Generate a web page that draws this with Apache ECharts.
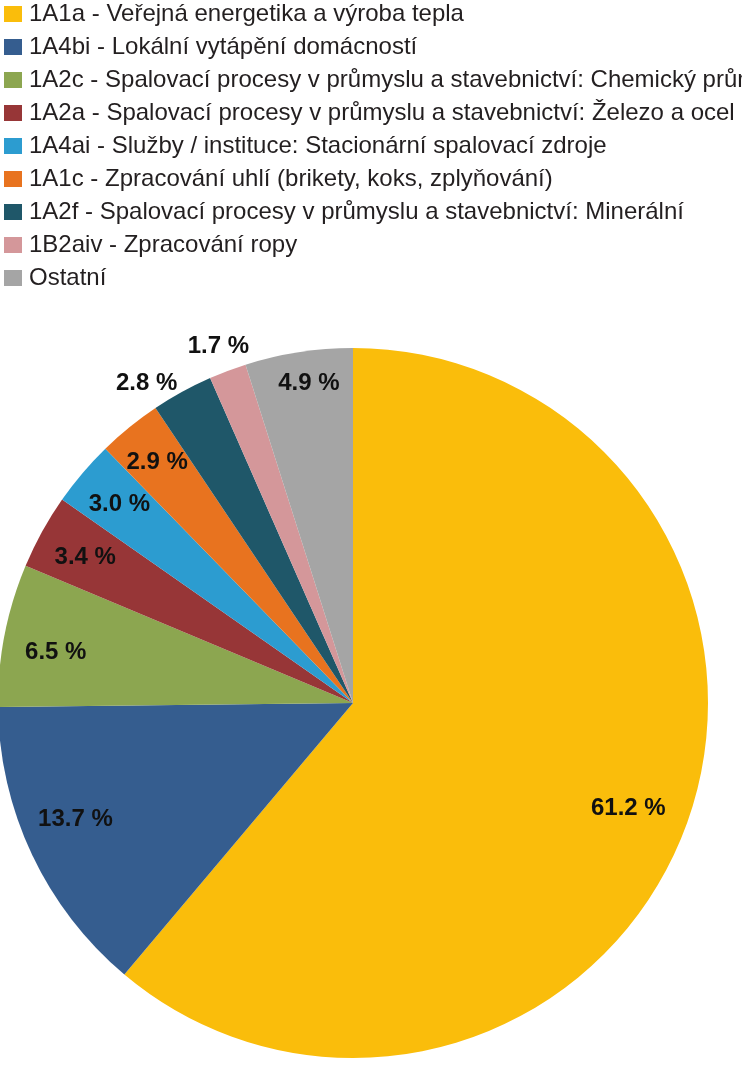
<!DOCTYPE html>
<html><head><meta charset="utf-8">
<script src="https://cdn.jsdelivr.net/npm/echarts@6/dist/echarts.min.js"></script>
<style>html,body{margin:0;padding:0;background:#fff}#c{width:742px;height:1087px}</style>
</head><body><div id="c"></div>
<script>
const categories = [
  '1A1a - Veřejná energetika a výroba tepla',
  '1A4bi - Lokální vytápění domácností',
  '1A2c - Spalovací procesy v průmyslu a stavebnictví: Chemický průmysl',
  '1A2a - Spalovací procesy v průmyslu a stavebnictví: Železo a ocel',
  '1A4ai - Služby / instituce: Stacionární spalovací zdroje',
  '1A1c - Zpracování uhlí (brikety, koks, zplyňování)',
  '1A2f - Spalovací procesy v průmyslu a stavebnictví: Minerální',
  '1B2aiv - Zpracování ropy',
  'Ostatní'
];
const shares = [61.2, 13.7, 6.5, 3.4, 3.0, 2.9, 2.8, 1.7, 4.9];
const outsideLabelled = [false, false, false, false, false, false, true, true, false];

const colors = ['#FABD0B','#355D8F','#8CA650','#973637','#2C9CD0','#E8731F','#1F5769','#D4979A','#A5A5A5'];
const insideOffsets = [[-14,0],[1,-15],[5,8],[2,3],[1,1],[-2,-1],[0,0],[0,0],[3,-15]];
const outsideOffsets = [[0,0],[0,0],[0,0],[0,0],[0,0],[0,0],[-23,14],[0,0],[5,5]];

const CX = 353, CY = 703, R = 355;
const labelFont = {fontFamily:'Liberation Sans, Arial, sans-serif', fontWeight:'bold', fontSize:24, color:'#111'};
const fmt = p => p.value.toFixed(1) + ' %';

const mainData = categories.map((n,i)=>({name:n, value:shares[i], itemStyle:{color:colors[i]}}));
const innerLabelData = categories.map((n,i)=>({name:n, value:shares[i],
  label:{show:!outsideLabelled[i], offset:insideOffsets[i]}}));
const outerLabelData = categories.map((n,i)=>({name:n, value:shares[i],
  label:{show:outsideLabelled[i], offset:outsideOffsets[i]}}));

const chart = echarts.init(document.getElementById('c'), null, {renderer:'canvas'});
const overlay = (radius, data) => ({
  type:'pie', center:[CX,CY], radius:radius, startAngle:90, clockwise:true,
  silent:true, animation:false, avoidLabelOverlap:false, data:data,
  itemStyle:{color:'rgba(0,0,0,0)', borderWidth:0},
  label:Object.assign({position:'inside', formatter:fmt}, labelFont),
  labelLine:{show:false}, emphasis:{disabled:true}
});
chart.setOption({
  animation:false,
  legend:{
    orient:'vertical', left:-1, top:-3, itemWidth:18, itemHeight:16, itemGap:9,
    icon:'rect', data:categories,
    textStyle:{fontFamily:'Liberation Sans Narrow, Arial Narrow, Liberation Sans, sans-serif', fontSize:24, lineHeight:24, color:'#231F20', padding:[0,0,0,2]},
    selectedMode:false
  },
  series:[
    {type:'pie', center:[CX,CY], radius:R, startAngle:90, clockwise:true,
     animation:false, avoidLabelOverlap:false, data:mainData,
     label:{show:false}, labelLine:{show:false}, itemStyle:{borderWidth:0}, emphasis:{disabled:true}},
    overlay([295,315], innerLabelData),
    overlay([370,386], outerLabelData)
  ]
});
</script></body></html>
